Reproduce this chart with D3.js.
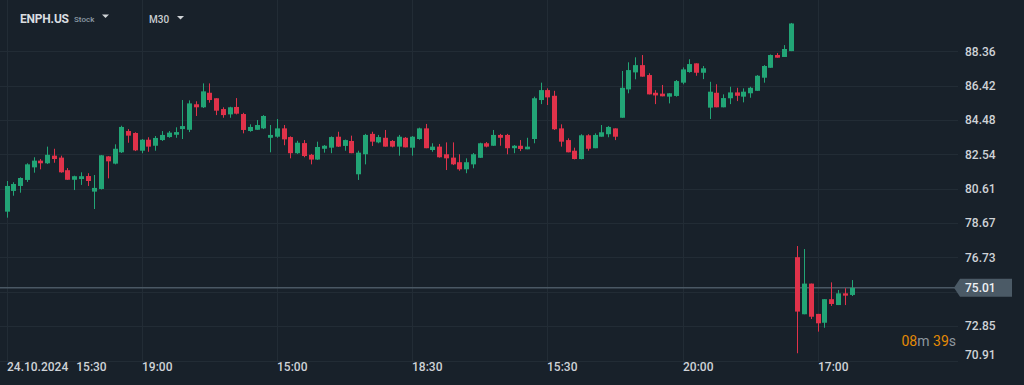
<!DOCTYPE html>
<html>
<head>
<meta charset="utf-8">
<script src="https://cdn.jsdelivr.net/npm/d3@7"></script>
<style>
  html, body { margin: 0; padding: 0; background: #18212a; overflow: hidden; }
  svg { display: block; font-family: Roboto, "Noto Sans", sans-serif; }
</style>
</head>
<body>
<div id="chart"></div>
<script>

// ENPH.US, M30 candles
const opens = [
  79.31, 80.48, 80.76, 81.10, 81.81, 82.19, 82.04, 82.47, 82.36, 81.65,
  81.11, 81.15, 81.32, 80.44, 80.59, 82.43, 82.02, 82.66, 83.86, 83.75,
  82.75, 83.37, 83.03, 83.35, 83.52, 83.65, 83.97, 83.93, 85.37, 85.20,
  86.02, 85.71, 85.10, 84.80, 85.22, 84.82, 83.86, 83.93, 84.01, 83.48,
  83.54, 84.01, 83.52, 82.61, 83.18, 82.52, 82.25, 82.86, 82.92, 83.54,
  83.02, 83.30, 81.42, 82.55, 83.70, 83.22, 83.48, 83.30, 82.98, 83.48,
  82.92, 83.41, 84.01, 82.79, 82.98, 82.55, 82.36, 82.10, 81.70, 81.98,
  82.35, 83.17, 83.03, 83.64, 83.64, 82.89, 83.03, 82.83, 83.41, 85.61,
  86.17, 85.85, 84.01, 83.35, 82.75, 82.28, 83.62, 82.89, 83.54, 83.68,
  84.01, 84.61, 86.21, 87.17, 87.58, 87.02, 86.02, 85.97, 85.80, 85.84,
  86.59, 87.19, 87.68, 87.15, 85.18, 86.02, 85.20, 85.71, 86.04, 85.80,
  85.99, 86.13, 86.87, 87.43, 88.15, 88.04, 88.37, 76.74, 73.52, 75.25,
  73.54, 73.04, 74.37, 74.04, 74.70, 74.61
]
const highs = [
  81.04, 80.97, 81.25, 82.04, 82.38, 82.28, 82.98, 82.86, 82.47, 81.77,
  81.34, 81.53, 81.48, 81.38, 82.51, 82.45, 83.11, 84.16, 83.97, 83.79,
  83.41, 83.51, 83.58, 83.86, 83.86, 84.07, 85.61, 85.59, 85.54, 86.55,
  86.55, 85.71, 85.20, 85.23, 85.72, 84.89, 84.24, 84.48, 84.76, 84.20,
  84.54, 84.20, 83.56, 83.31, 83.35, 82.57, 83.26, 83.07, 83.56, 83.82,
  83.38, 83.60, 82.75, 83.70, 83.82, 83.64, 83.92, 83.35, 83.64, 83.52,
  83.58, 84.05, 84.26, 83.17, 83.13, 83.22, 83.22, 82.55, 82.32, 82.62,
  83.20, 83.24, 83.92, 83.70, 83.70, 83.07, 83.35, 83.48, 85.80, 86.59,
  86.27, 86.13, 84.24, 83.45, 82.92, 83.68, 83.68, 83.73, 84.20, 84.14,
  84.01, 87.25, 87.74, 88.02, 88.15, 87.12, 86.17, 86.46, 86.00, 86.74,
  87.45, 87.91, 87.68, 87.53, 86.64, 86.50, 85.93, 86.36, 86.30, 86.27,
  86.36, 87.02, 87.58, 88.18, 88.26, 88.71, 89.96, 77.37, 77.20, 75.25,
  73.54, 74.37, 75.32, 74.89, 74.99, 75.45
]
const lows = [
  78.97, 80.21, 80.38, 80.99, 81.51, 81.70, 82.00, 82.07, 81.51, 81.10,
  80.53, 80.82, 80.76, 79.46, 80.56, 81.19, 81.98, 82.62, 83.20, 82.73,
  82.61, 82.69, 82.75, 83.30, 83.48, 83.48, 83.41, 83.80, 84.71, 85.16,
  85.46, 84.76, 84.61, 84.61, 84.80, 83.73, 83.82, 83.92, 83.97, 82.66,
  83.48, 83.06, 82.32, 82.57, 82.38, 81.98, 82.23, 82.64, 82.61, 82.96,
  82.75, 82.61, 81.10, 81.98, 83.02, 83.17, 82.98, 82.94, 82.47, 82.94,
  82.47, 83.37, 82.89, 82.69, 82.36, 81.66, 81.94, 81.62, 81.48, 81.76,
  82.34, 82.94, 83.02, 83.03, 82.55, 82.61, 82.73, 82.83, 83.17, 85.38,
  85.33, 83.92, 82.98, 82.66, 82.26, 82.26, 82.75, 82.89, 83.54, 83.51,
  83.35, 84.61, 85.99, 86.78, 86.93, 85.93, 85.38, 85.82, 85.42, 85.80,
  86.50, 87.15, 86.98, 86.79, 84.54, 85.20, 85.20, 85.38, 85.55, 85.48,
  85.74, 86.12, 86.59, 87.43, 88.00, 88.04, 88.37, 71.32, 73.52, 73.25,
  72.54, 72.76, 73.99, 74.04, 74.04, 74.55
]
const closes = [
  80.76, 80.87, 81.21, 81.98, 82.19, 82.04, 82.52, 82.28, 81.53, 81.11,
  81.31, 81.31, 81.04, 80.65, 82.49, 82.15, 82.86, 84.09, 83.60, 82.77,
  83.37, 82.98, 83.47, 83.64, 83.77, 83.80, 84.14, 85.42, 85.20, 86.10,
  85.61, 85.01, 84.76, 85.20, 84.84, 83.92, 84.09, 84.20, 84.71, 83.64,
  84.01, 83.39, 82.61, 83.20, 82.45, 82.25, 82.96, 83.03, 83.52, 82.98,
  83.35, 82.61, 82.64, 83.64, 83.26, 83.52, 82.98, 82.98, 83.54, 82.94,
  83.54, 84.01, 82.89, 82.98, 82.38, 82.32, 81.98, 81.70, 82.10, 82.55,
  83.17, 82.98, 83.64, 83.48, 82.89, 83.03, 82.85, 82.98, 85.71, 86.17,
  85.76, 83.96, 83.26, 82.66, 82.28, 83.62, 82.86, 83.64, 83.79, 84.09,
  83.54, 86.30, 87.30, 87.58, 86.93, 85.93, 85.87, 85.82, 85.99, 86.68,
  87.34, 87.64, 87.15, 87.40, 86.08, 85.20, 85.72, 86.04, 85.85, 86.08,
  86.30, 86.98, 87.53, 88.15, 88.00, 88.49, 89.93, 73.67, 75.25, 73.38,
  73.01, 74.37, 74.10, 74.70, 74.57, 75.01
]

const yTicks = [88.36, 86.42, 84.48, 82.54, 80.61, 78.67, 76.73, 74.79, 72.85, 70.91]
const xTickIdx = [0, 20, 40, 60, 80, 100, 120]
const xTickLabels = ['15:30', '19:00', '15:00', '18:30', '15:30', '20:00', '17:00']
const firstDate = '24.10.2024'
const lastPrice = 75.01
const symbol = 'ENPH.US'
const timeframe = 'M30'
const timer = [['08', true], ['m', false], [' ', false], ['39', true], ['s', false]]

const width = 1024, height = 385
const bg = '#18212a', grid = '#222c35', up = '#22a576', down = '#e0324a'
const txt = '#cfd3d7'

const svg = d3.select('#chart').append('svg')
  .attr('width', width)
  .attr('height', height)

svg.append('rect').attr('width', width).attr('height', height).attr('fill', bg)

const data = opens.map((o, i) => ({ i, o, h: highs[i], l: lows[i], c: closes[i] }))

// Scales
const x = d3.scaleLinear().domain([0, 125]).range([6.5, 6.5 + 125 * 6.76])
const y = d3.scaleLinear().domain([70.91, 88.36]).range([360.5, 51.3])
const plotRight = 958

// Grid
const gridG = svg.append('g')
gridG.selectAll('.hgrid')
  .data(yTicks)
  .enter().append('line')
    .attr('x1', 0).attr('x2', plotRight)
    .attr('y1', d => Math.round(y(d)) + 0.5)
    .attr('y2', d => Math.round(y(d)) + 0.5)
    .attr('stroke', grid)
gridG.selectAll('.vgrid')
  .data(xTickIdx)
  .enter().append('line')
    .attr('x1', d => Math.round(x(d)) + 0.5)
    .attr('x2', d => Math.round(x(d)) + 0.5)
    .attr('y1', 0).attr('y2', 361)
    .attr('stroke', grid)

// Current price line
svg.append('line')
  .attr('x1', 0).attr('x2', 955)
  .attr('y1', y(lastPrice)).attr('y2', y(lastPrice))
  .attr('stroke', '#4a5864')
  .attr('stroke-width', 1.5)

// Candles
const candle = svg.append('g').selectAll('g')
  .data(data)
  .enter().append('g')
    .attr('fill', d => d.c >= d.o ? up : down)
    .attr('stroke', 'none')

candle.append('rect')
  .attr('x', d => Math.round(x(d.i)))
  .attr('width', 1)
  .attr('y', d => y(d.h))
  .attr('height', d => Math.max(1, y(d.l) - y(d.h)))

candle.append('rect')
  .attr('x', d => Math.round(x(d.i)) - 2)
  .attr('width', 5)
  .attr('y', d => y(Math.max(d.o, d.c)))
  .attr('height', d => Math.max(1, Math.abs(y(d.o) - y(d.c))))

// Y axis labels
const priceY = y(lastPrice)
svg.append('g').selectAll('text')
  .data(yTicks.filter(v => Math.abs(y(v) - priceY) > 12))
  .enter().append('text')
    .attr('x', 965)
    .attr('y', d => Math.min(y(d), 355))
    .attr('dy', '0.35em')
    .attr('fill', txt)
    .attr('font-size', 12)
    .attr('font-weight', 500)
    .text(d => d.toFixed(2))

// Last price tag
const tag = svg.append('g').attr('transform', 'translate(0,' + priceY + ')')
tag.append('path')
  .attr('d', 'M954,0 L960,-9 L1012,-9 L1012,9 L960,9 Z')
  .attr('fill', '#4b5a66')
tag.append('text')
  .attr('x', 965).attr('dy', '0.35em')
  .attr('fill', '#eef1f3')
  .attr('font-size', 12)
  .attr('font-weight', 500)
  .text(lastPrice.toFixed(2))

// X axis labels
const xl = svg.append('g').selectAll('text')
  .data(xTickIdx)
  .enter().append('text')
    .attr('x', d => Math.round(x(d)))
    .attr('y', 371)
    .attr('fill', txt)
    .attr('font-size', 12)
    .attr('font-weight', 500)
xl.each(function(d, k) {
  const t = d3.select(this)
  if (k === 0) {
    t.append('tspan').text(firstDate)
    t.append('tspan').attr('dx', 8).text(xTickLabels[k])
  } else {
    t.text(xTickLabels[k])
  }
})

// Countdown
svg.append('text')
  .attr('x', 956).attr('y', 346)
  .attr('text-anchor', 'end')
  .attr('font-size', 14)
  .style('white-space', 'pre')
  .selectAll('tspan')
  .data(timer)
  .enter().append('tspan')
    .attr('fill', d => d[1] ? '#e38a05' : '#8e979e')
    .text(d => d[0])

// Header
svg.append('text')
  .attr('x', 20).attr('y', 23)
  .attr('fill', '#d9dde0')
  .attr('font-size', 12)
  .attr('font-weight', 700)
  .attr('textLength', 49)
  .text(symbol)
svg.append('text')
  .attr('x', 74).attr('y', 22)
  .attr('fill', '#8c9ba6')
  .attr('font-size', 8)
  .attr('font-weight', 500)
  .text('Stock')
svg.append('path')
  .attr('d', 'M102,14.5 L109,14.5 L105.5,18 Z')
  .attr('fill', '#d0d4d7')
svg.append('text')
  .attr('x', 149).attr('y', 23)
  .attr('fill', '#c9cdd0')
  .attr('font-size', 10)
  .attr('font-weight', 500)
  .text(timeframe)
svg.append('path')
  .attr('d', 'M177,16 L184,16 L180.5,19.5 Z')
  .attr('fill', '#d0d4d7')

</script>
</body>
</html>
